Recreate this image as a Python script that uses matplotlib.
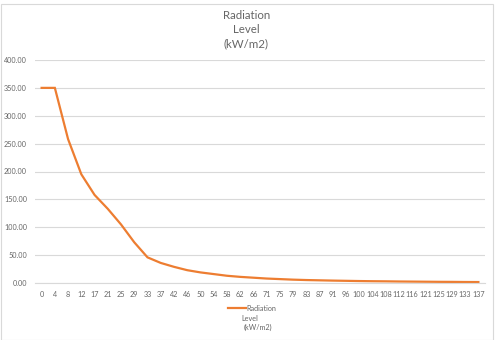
import matplotlib
matplotlib.use("Agg")
import matplotlib.pyplot as plt
from matplotlib.patches import Rectangle
from matplotlib.lines import Line2D

plt.rcParams['font.family'] = ['Lato', 'DejaVu Sans']

# Distance categories and radiation level per category
distances = [0, 4, 8, 12, 17, 21, 25, 29, 33, 37, 42, 46, 50, 54, 58, 62, 66,
             71, 75, 79, 83, 87, 91, 96, 100, 104, 108, 112, 116, 121, 125,
             129, 133, 137]
radiation = [350, 350, 258, 195, 158, 133, 105, 73, 46, 36, 29, 23, 19, 16,
             13, 11, 9.5, 8, 7, 6, 5.3, 4.8, 4.3, 3.9, 3.5, 3.2, 3.0, 2.7,
             2.5, 2.3, 2.1, 2.0, 1.8, 1.7]
y_ticks = [0, 50, 100, 150, 200, 250, 300, 350, 400]
series_name = "Radiation\nLevel\n(kW/m2)"

W, H = 495, 340
fig = plt.figure(figsize=(W / 100, H / 100), dpi=100)
fig.patch.set_facecolor('white')

TEXT = '#666666'
GRID = '#D9D9D9'
ORANGE = '#ED7D31'

# chart border
fig.add_artist(Rectangle((0.5 / W, 0.5 / H), 1 - 3 / W, 1 - 4 / H,
                         transform=fig.transFigure, fill=False,
                         edgecolor='#D9D9D9', linewidth=0.8))

ax = fig.add_axes([35 / W, 1 - 283 / H, 450 / W, 223 / H])
x = list(range(len(distances)))
ax.plot(x, radiation, color=ORANGE, linewidth=1.6, solid_joinstyle='miter')

ax.set_xlim(-0.5, len(distances) - 0.5)
ax.set_ylim(0, 400)
ax.set_yticks(y_ticks)
ax.set_yticklabels([f"{v:.2f}" for v in y_ticks])
ax.set_xticks(x)
ax.set_xticklabels([str(d) for d in distances])
ax.tick_params(axis='both', length=0, colors=TEXT, labelsize=5.2)
ax.tick_params(axis='x', pad=5.5)
ax.tick_params(axis='y', pad=5.8)
ax.grid(axis='y', color=GRID, linewidth=0.8)
ax.set_axisbelow(True)
for s in ['top', 'right', 'left']:
    ax.spines[s].set_visible(False)
ax.spines['bottom'].set_color(GRID)
ax.spines['bottom'].set_linewidth(0.8)

# title
for i, line in enumerate(series_name.split("\n")):
    fig.text(246.5 / W, 1 - (15.3 + 14 * i) / H, line, ha='center',
             va='center', fontsize=8.3, color=TEXT)

# legend
fig.add_artist(Line2D([228 / W, 245.5 / W], [1 - 308.3 / H, 1 - 308.3 / H],
                      color=ORANGE, linewidth=1.6, transform=fig.transFigure))
legend_x = [246.5, 241.7, 243.7]
legend_y = [308.3, 318.5, 327.8]
for line, lx, ly in zip(series_name.split("\n"), legend_x, legend_y):
    fig.text(lx / W, 1 - ly / H, line, ha='left', va='center',
             fontsize=5.2, color=TEXT)

fig.savefig("out.png", dpi=100, facecolor='white')
